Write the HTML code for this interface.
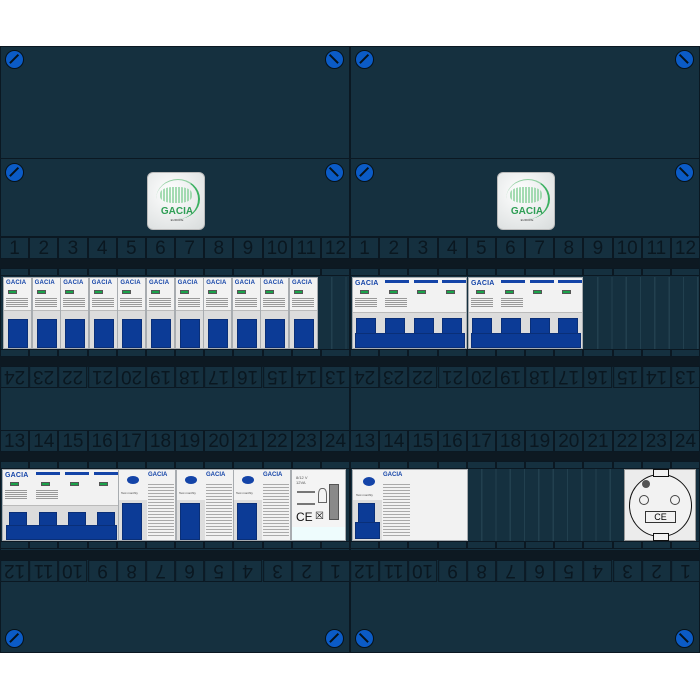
<!DOCTYPE html>
<html><head><meta charset="utf-8"><style>
*{margin:0;padding:0;box-sizing:border-box}
body{width:700px;height:700px;background:#fff;position:relative;overflow:hidden;font-family:"Liberation Sans",sans-serif}
.a{position:absolute}
.pan{position:absolute;background:#15303f;border:1px solid #0b1822}
.st{position:absolute;display:flex;width:350px}
.st span{flex:1;border:1px solid #0b1822;background:#15303f;color:#0a1720;font-size:19px;text-align:center;line-height:21px;height:22px;overflow:hidden}
.st.r span{transform:rotate(180deg)}
.sm{position:absolute;display:flex;width:350px;height:8px}
.sm span{flex:1;border:1px solid #0b1822;background:#15303f}
.dk{position:absolute;background:#0d1922;height:10px;width:700px;left:0}
.scr{position:absolute;width:19px;height:19px;border-radius:50%;background:#0b5bc6;border:1.5px solid #06121a}
.scr:after{content:"";position:absolute;left:2px;top:7px;width:12px;height:1.6px;background:#06121a;transform:rotate(-45deg)}
.scr.b:after{transform:rotate(45deg)}
.m{position:absolute;background:#dcdcdc;border:1px solid #a8acb0;overflow:hidden}
.m .t{position:absolute;left:0;top:0;right:0;height:33px;background:#f2f2f2;border-bottom:1px solid #bbb}
.m .g{position:absolute;left:2px;top:2px;font-size:6px;font-weight:bold;color:#1444a8;letter-spacing:.2px}
.m .gr{position:absolute;left:4px;top:12px;width:9px;height:4px;background:#1aa24a;border:1px solid #555}
.m .tx{position:absolute;left:2px;top:19px;width:22px;height:10px;background:repeating-linear-gradient(#f2f2f2 0 1px,#999 1px 2px)}
.m .bb{position:absolute;left:3px;top:2px;width:20px;height:3px;background:#1444a8}
.tg{position:absolute;background:#0c3b96;border:1px solid #0a2f78}
.cv{position:absolute;background:repeating-linear-gradient(90deg,#15303f 0 13px,#22404f 13px 14.3px)}
</style></head><body>

<!-- panels -->
<div class="pan" style="left:0;top:46px;width:350px;height:113px"></div>
<div class="pan" style="left:350px;top:46px;width:350px;height:113px"></div>
<div class="pan" style="left:0;top:158px;width:350px;height:80px"></div>
<div class="pan" style="left:350px;top:158px;width:350px;height:80px"></div>
<div class="pan" style="left:0;top:236px;width:700px;height:417px"></div>
<div class="a" style="left:349px;top:236px;width:2px;height:417px;background:#0b1822"></div>

<!-- screws -->
<div class="scr" style="left:5px;top:50px"></div><div class="scr b" style="left:325px;top:50px"></div>
<div class="scr" style="left:355px;top:50px"></div><div class="scr b" style="left:675px;top:50px"></div>
<div class="scr" style="left:5px;top:163px"></div><div class="scr b" style="left:325px;top:163px"></div>
<div class="scr" style="left:355px;top:163px"></div><div class="scr b" style="left:675px;top:163px"></div>
<div class="scr" style="left:5px;top:629px"></div><div class="scr" style="left:325px;top:629px"></div>
<div class="scr b" style="left:355px;top:629px"></div><div class="scr b" style="left:675px;top:629px"></div>

<!-- logos -->
<div class="a" style="left:147px;top:172px;width:58px;height:58px;border-radius:6px;background:radial-gradient(circle at 40% 35%,#fff,#d8dcdc);border:1px solid #bbb">
<div class="a" style="left:8px;top:6px;width:44px;height:40px;border-radius:50%;border-right:2px solid #3bb060;border-top:1px solid #8fcf9f"></div>
<div class="a" style="left:12px;top:14px;width:32px;height:16px;background:repeating-linear-gradient(90deg,#8fd3a0 0 2px,transparent 2px 3px);opacity:.8;border-radius:40%"></div>
<div class="a" style="left:0;width:58px;top:33px;text-align:center;font-size:10px;font-weight:bold;color:#2f9e55">GACIA</div>
<div class="a" style="left:0;width:58px;top:45px;text-align:center;font-size:3px;color:#333">EUROPE</div></div>
<div class="a" style="left:497px;top:172px;width:58px;height:58px;border-radius:6px;background:radial-gradient(circle at 40% 35%,#fff,#d8dcdc);border:1px solid #bbb">
<div class="a" style="left:8px;top:6px;width:44px;height:40px;border-radius:50%;border-right:2px solid #3bb060;border-top:1px solid #8fcf9f"></div>
<div class="a" style="left:12px;top:14px;width:32px;height:16px;background:repeating-linear-gradient(90deg,#8fd3a0 0 2px,transparent 2px 3px);opacity:.8;border-radius:40%"></div>
<div class="a" style="left:0;width:58px;top:33px;text-align:center;font-size:10px;font-weight:bold;color:#2f9e55">GACIA</div>
<div class="a" style="left:0;width:58px;top:45px;text-align:center;font-size:3px;color:#333">EUROPE</div></div>

<!-- Row 1 strips -->
<div class="st" style="left:0;top:237px"><span>1</span><span>2</span><span>3</span><span>4</span><span>5</span><span>6</span><span>7</span><span>8</span><span>9</span><span>10</span><span>11</span><span>12</span></div>
<div class="st" style="left:350px;top:237px"><span>1</span><span>2</span><span>3</span><span>4</span><span>5</span><span>6</span><span>7</span><span>8</span><span>9</span><span>10</span><span>11</span><span>12</span></div>
<div class="dk" style="top:259px"></div>
<div class="sm" style="left:0;top:268px"><span></span><span></span><span></span><span></span><span></span><span></span><span></span><span></span><span></span><span></span><span></span><span></span></div>
<div class="sm" style="left:350px;top:268px"><span></span><span></span><span></span><span></span><span></span><span></span><span></span><span></span><span></span><span></span><span></span><span></span></div>
<div class="sm" style="left:0;top:349px"><span></span><span></span><span></span><span></span><span></span><span></span><span></span><span></span><span></span><span></span><span></span><span></span></div>
<div class="sm" style="left:350px;top:349px"><span></span><span></span><span></span><span></span><span></span><span></span><span></span><span></span><span></span><span></span><span></span><span></span></div>
<div class="dk" style="top:357px"></div>
<div class="st r" style="left:0;top:366px"><span>24</span><span>23</span><span>22</span><span>21</span><span>20</span><span>19</span><span>18</span><span>17</span><span>16</span><span>15</span><span>14</span><span>13</span></div>
<div class="st r" style="left:350px;top:366px"><span>24</span><span>23</span><span>22</span><span>21</span><span>20</span><span>19</span><span>18</span><span>17</span><span>16</span><span>15</span><span>14</span><span>13</span></div>

<!-- Row 2 strips -->
<div class="st" style="left:0;top:430px"><span>13</span><span>14</span><span>15</span><span>16</span><span>17</span><span>18</span><span>19</span><span>20</span><span>21</span><span>22</span><span>23</span><span>24</span></div>
<div class="st" style="left:350px;top:430px"><span>13</span><span>14</span><span>15</span><span>16</span><span>17</span><span>18</span><span>19</span><span>20</span><span>21</span><span>22</span><span>23</span><span>24</span></div>
<div class="dk" style="top:452px"></div>
<div class="sm" style="left:0;top:461px"><span></span><span></span><span></span><span></span><span></span><span></span><span></span><span></span><span></span><span></span><span></span><span></span></div>
<div class="sm" style="left:350px;top:461px"><span></span><span></span><span></span><span></span><span></span><span></span><span></span><span></span><span></span><span></span><span></span><span></span></div>
<div class="sm" style="left:0;top:541px"><span></span><span></span><span></span><span></span><span></span><span></span><span></span><span></span><span></span><span></span><span></span><span></span></div>
<div class="sm" style="left:350px;top:541px"><span></span><span></span><span></span><span></span><span></span><span></span><span></span><span></span><span></span><span></span><span></span><span></span></div>
<div class="dk" style="top:550px"></div>
<div class="st r" style="left:0;top:560px"><span>12</span><span>11</span><span>10</span><span>9</span><span>8</span><span>7</span><span>6</span><span>5</span><span>4</span><span>3</span><span>2</span><span>1</span></div>
<div class="st r" style="left:350px;top:560px"><span>12</span><span>11</span><span>10</span><span>9</span><span>8</span><span>7</span><span>6</span><span>5</span><span>4</span><span>3</span><span>2</span><span>1</span></div>

<!-- empty covers -->
<div class="cv" style="left:318px;top:277px;width:31px;height:72px"></div>
<div class="cv" style="left:584px;top:277px;width:115px;height:72px"></div>
<div class="cv" style="left:468px;top:469px;width:155px;height:72px"></div>

<!-- Row 1 left MCBs -->
<div class="m" style="left:3px;top:277px;width:29px;height:72px"><div class="t"><div class="g">GACIA</div><div class="gr"></div><div class="tx"></div></div><div class="tg" style="left:4px;top:41px;width:20px;height:29px"></div></div>
<div class="m" style="left:31.6px;top:277px;width:29px;height:72px"><div class="t"><div class="g">GACIA</div><div class="gr"></div><div class="tx"></div></div><div class="tg" style="left:4px;top:41px;width:20px;height:29px"></div></div>
<div class="m" style="left:60.2px;top:277px;width:29px;height:72px"><div class="t"><div class="g">GACIA</div><div class="gr"></div><div class="tx"></div></div><div class="tg" style="left:4px;top:41px;width:20px;height:29px"></div></div>
<div class="m" style="left:88.8px;top:277px;width:29px;height:72px"><div class="t"><div class="g">GACIA</div><div class="gr"></div><div class="tx"></div></div><div class="tg" style="left:4px;top:41px;width:20px;height:29px"></div></div>
<div class="m" style="left:117.4px;top:277px;width:29px;height:72px"><div class="t"><div class="g">GACIA</div><div class="gr"></div><div class="tx"></div></div><div class="tg" style="left:4px;top:41px;width:20px;height:29px"></div></div>
<div class="m" style="left:146px;top:277px;width:29px;height:72px"><div class="t"><div class="g">GACIA</div><div class="gr"></div><div class="tx"></div></div><div class="tg" style="left:4px;top:41px;width:20px;height:29px"></div></div>
<div class="m" style="left:174.6px;top:277px;width:29px;height:72px"><div class="t"><div class="g">GACIA</div><div class="gr"></div><div class="tx"></div></div><div class="tg" style="left:4px;top:41px;width:20px;height:29px"></div></div>
<div class="m" style="left:203.2px;top:277px;width:29px;height:72px"><div class="t"><div class="g">GACIA</div><div class="gr"></div><div class="tx"></div></div><div class="tg" style="left:4px;top:41px;width:20px;height:29px"></div></div>
<div class="m" style="left:231.8px;top:277px;width:29px;height:72px"><div class="t"><div class="g">GACIA</div><div class="gr"></div><div class="tx"></div></div><div class="tg" style="left:4px;top:41px;width:20px;height:29px"></div></div>
<div class="m" style="left:260.4px;top:277px;width:29px;height:72px"><div class="t"><div class="g">GACIA</div><div class="gr"></div><div class="tx"></div></div><div class="tg" style="left:4px;top:41px;width:20px;height:29px"></div></div>
<div class="m" style="left:289px;top:277px;width:29px;height:72px"><div class="t"><div class="g">GACIA</div><div class="gr"></div><div class="tx"></div></div><div class="tg" style="left:4px;top:41px;width:20px;height:29px"></div></div>

<!-- Row 1 right RCDs (4P x2) -->
<div class="m" style="left:352px;top:277px;width:115px;height:72px"><div class="t" style="height:35px"><div class="g" style="font-size:7px">GACIA</div><div class="bb" style="left:32px;width:24px"></div><div class="bb" style="left:61px;width:24px"></div><div class="bb" style="left:89px;width:24px"></div><div class="gr" style="left:7px"></div><div class="gr" style="left:36px"></div><div class="gr" style="left:64px"></div><div class="gr" style="left:93px"></div><div class="tx"></div><div class="tx" style="left:32px"></div></div>
<div class="tg" style="left:3px;top:40px;width:20px;height:20px"></div><div class="tg" style="left:32px;top:40px;width:20px;height:20px"></div><div class="tg" style="left:61px;top:40px;width:20px;height:20px"></div><div class="tg" style="left:89px;top:40px;width:20px;height:20px"></div><div class="tg" style="left:2px;top:55px;width:110px;height:15px"></div></div>
<div class="m" style="left:468px;top:277px;width:115px;height:72px"><div class="t" style="height:35px"><div class="g" style="font-size:7px">GACIA</div><div class="bb" style="left:32px;width:24px"></div><div class="bb" style="left:61px;width:24px"></div><div class="bb" style="left:89px;width:24px"></div><div class="gr" style="left:7px"></div><div class="gr" style="left:36px"></div><div class="gr" style="left:64px"></div><div class="gr" style="left:93px"></div><div class="tx"></div><div class="tx" style="left:32px"></div></div>
<div class="tg" style="left:3px;top:40px;width:20px;height:20px"></div><div class="tg" style="left:32px;top:40px;width:20px;height:20px"></div><div class="tg" style="left:61px;top:40px;width:20px;height:20px"></div><div class="tg" style="left:89px;top:40px;width:20px;height:20px"></div><div class="tg" style="left:2px;top:55px;width:110px;height:15px"></div></div>

<!-- Row 2 left main switch -->
<div class="m" style="left:2px;top:469px;width:117px;height:72px"><div class="t" style="height:36px"><div class="g" style="font-size:7px">GACIA</div><div class="bb" style="left:33px;width:24px"></div><div class="bb" style="left:62px;width:24px"></div><div class="bb" style="left:91px;width:24px"></div><div class="gr" style="left:7px"></div><div class="gr" style="left:38px"></div><div class="gr" style="left:67px"></div><div class="gr" style="left:96px"></div><div class="tx"></div><div class="tx" style="left:33px"></div></div>
<div class="tg" style="left:6px;top:42px;width:18px;height:20px"></div><div class="tg" style="left:36px;top:42px;width:18px;height:20px"></div><div class="tg" style="left:65px;top:42px;width:18px;height:20px"></div><div class="tg" style="left:94px;top:42px;width:18px;height:20px"></div><div class="tg" style="left:3px;top:55px;width:111px;height:15px"></div></div>

<!-- RCBOs -->
<div class="m" style="left:118px;top:469px;width:58px;height:72px;background:#f2f2f2"><div class="a" style="left:8px;top:6px;width:12px;height:8px;border-radius:50%;background:#1444a8"></div><div class="a" style="left:2px;top:21px;font-size:3px;color:#444">Test monthly</div><div class="a" style="left:29px;top:2px;font-size:6px;font-weight:bold;color:#1444a8">GACIA</div><div class="tx" style="left:29px;top:12px;width:26px;height:55px;background:repeating-linear-gradient(#f2f2f2 0 2px,#aaa 2px 3px)"></div><div class="a" style="left:0;top:30px;width:28px;height:42px;background:#ddd"></div><div class="tg" style="left:3px;top:33px;width:20px;height:37px"></div></div>
<div class="m" style="left:176px;top:469px;width:58px;height:72px;background:#f2f2f2"><div class="a" style="left:8px;top:6px;width:12px;height:8px;border-radius:50%;background:#1444a8"></div><div class="a" style="left:2px;top:21px;font-size:3px;color:#444">Test monthly</div><div class="a" style="left:29px;top:2px;font-size:6px;font-weight:bold;color:#1444a8">GACIA</div><div class="tx" style="left:29px;top:12px;width:26px;height:55px;background:repeating-linear-gradient(#f2f2f2 0 2px,#aaa 2px 3px)"></div><div class="a" style="left:0;top:30px;width:28px;height:42px;background:#ddd"></div><div class="tg" style="left:3px;top:33px;width:20px;height:37px"></div></div>
<div class="m" style="left:233px;top:469px;width:58px;height:72px;background:#f2f2f2"><div class="a" style="left:8px;top:6px;width:12px;height:8px;border-radius:50%;background:#1444a8"></div><div class="a" style="left:2px;top:21px;font-size:3px;color:#444">Test monthly</div><div class="a" style="left:29px;top:2px;font-size:6px;font-weight:bold;color:#1444a8">GACIA</div><div class="tx" style="left:29px;top:12px;width:26px;height:55px;background:repeating-linear-gradient(#f2f2f2 0 2px,#aaa 2px 3px)"></div><div class="a" style="left:0;top:30px;width:28px;height:42px;background:#ddd"></div><div class="tg" style="left:3px;top:33px;width:20px;height:37px"></div></div>

<!-- Bell transformer -->
<div class="m" style="left:291px;top:469px;width:55px;height:72px;background:#f4f4f4"><div class="a" style="left:4px;top:5px;font-size:4px;color:#555">8/12 V<br>12VA</div><div class="a" style="left:5px;top:21px;width:18px;height:14px;border-top:2px solid #777;border-bottom:2px solid #777"></div><div class="a" style="left:26px;top:18px;width:9px;height:15px;border:1px solid #666;border-radius:40% 40% 0 0"></div><div class="a" style="left:37px;top:14px;width:10px;height:36px;background:#8a8a8a;border:1px solid #555"></div><div class="a" style="left:4px;top:40px;font-size:12px;color:#111">CE</div><div class="a" style="left:23px;top:41px;font-size:10px;color:#111">&#x2612;</div><div class="a" style="left:0;top:57px;width:55px;height:15px;background:#eefcfd"></div></div>

<!-- Row 2 right RCD -->
<div class="m" style="left:352px;top:469px;width:116px;height:72px;background:#f2f2f2"><div class="a" style="left:10px;top:7px;width:12px;height:9px;border-radius:50%;background:#1444a8"></div><div class="a" style="left:3px;top:23px;font-size:3px;color:#444">Test monthly</div><div class="a" style="left:30px;top:2px;font-size:6px;font-weight:bold;color:#1444a8">GACIA</div><div class="tx" style="left:30px;top:12px;width:27px;height:55px;background:repeating-linear-gradient(#f2f2f2 0 2px,#aaa 2px 3px)"></div><div class="a" style="left:0;top:30px;width:29px;height:42px;background:#ddd"></div><div class="tg" style="left:5px;top:33px;width:17px;height:36px"></div><div class="tg" style="left:2px;top:52px;width:25px;height:17px"></div></div>

<!-- Socket -->
<div class="a" style="left:624px;top:469px;width:72px;height:72px;background:#ececec;border:1px solid #999">
<div class="a" style="left:4px;top:4px;width:63px;height:63px;border-radius:50%;border:1.5px solid #111;background:#f2f2f2"></div>
<div class="a" style="left:28px;top:-1px;width:16px;height:8px;border:1px solid #111;background:#f2f2f2"></div>
<div class="a" style="left:28px;top:63px;width:16px;height:8px;border:1px solid #111;background:#f2f2f2"></div>
<div class="a" style="left:14px;top:25px;width:10px;height:10px;border-radius:50%;border:1px solid #444"></div>
<div class="a" style="left:45px;top:25px;width:10px;height:10px;border-radius:50%;border:1px solid #444"></div>
<div class="a" style="left:20px;top:41px;width:31px;height:12px;border:1px solid #333;font-size:9px;text-align:center;line-height:10px">CE</div>
<div class="a" style="left:17px;top:10px;width:8px;height:8px;border-radius:50%;background:#555"></div>
</div>
</body></html>
